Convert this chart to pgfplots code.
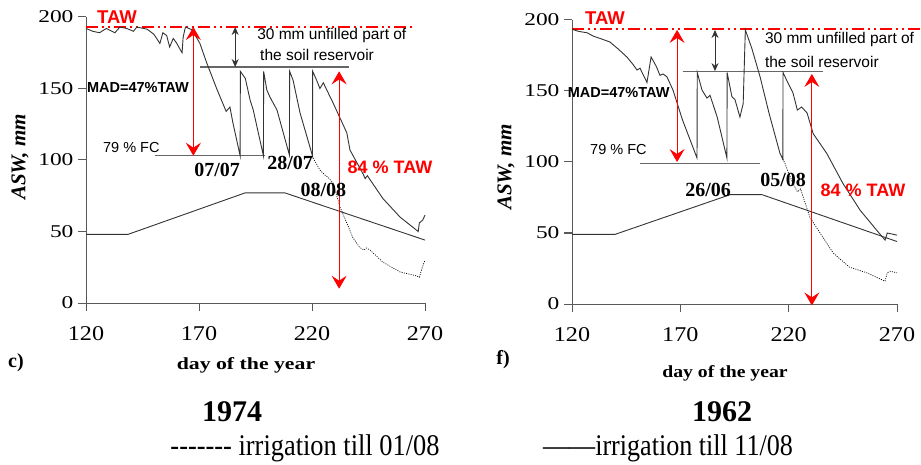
\documentclass[border=0pt]{standalone}
\usepackage{pgfplots}
\pgfplotsset{compat=1.18}
\usepackage{fontspec}
\setmainfont{Liberation Serif}
\newfontfamily\arial{Liberation Sans}
\usetikzlibrary{arrows.meta}
\newcommand\fs[1]{\fontsize{#1}{#1}\selectfont}
\pgfplotsset{
 panel/.style={
  scale only axis, clip=false,
  xmin=120,xmax=270,ymin=0,ymax=200,
  axis x line*=bottom, axis y line*=left,
  axis line style={black!65, line width=1pt},
  xtick={120,170,220,270}, ytick={0,50,100,150,200},
  xticklabels={120,170,220,270}, yticklabels={0,50,100,150,200},
  tick align=outside, major tick length=8pt,
  tick style={black!65,line width=1pt},
  xticklabel style={font=\fs{21}, xscale=1.15, yshift=-12pt},
  yticklabel style={font=\fs{18}, xscale=1.3},
 },
 curve/.style={black!80, line width=0.9pt},
 dcurve/.style={black, line width=0.7pt, dash pattern=on 1pt off 1.3pt},
 hline/.style={black!60, line width=1.2pt},
 taw/.style={color=red, line width=1.6pt, dash pattern=on 12pt off 4pt on 2pt off 4pt on 2pt off 4pt},
 redarr/.style={color=red, line width=0.8pt, arrows={Stealth[length=13pt,width=15pt,inset=5pt]-Stealth[length=13pt,width=15pt,inset=5pt]}},
 blkarr/.style={black!80, line width=0.9pt, arrows={Stealth[length=8pt,width=7pt]-Stealth[length=8pt,width=7pt]}},
}
\begin{document}
\begin{tikzpicture}
\useasboundingbox (0,0) rectangle (921pt,464pt);
% ---------------- 1974 -----------------
\begin{axis}[panel, at={(86pt,161pt)}, anchor=south west, width=339pt, height=286pt]
\addplot[taw] coordinates {(120,193) (265.6,193)};
\addplot[hline] coordinates {(150.5,103) (199,103)};
\addplot[hline] coordinates {(170.5,165) (236.5,165)};
\addplot[curve] coordinates {(120,48)(138.6,48)(190.4,77)(208,77)(270,44)};
\addplot[dcurve] coordinates {(220.2,103)(221,100)(223.5,93)(225.7,89.5)(227,88)(229.3,84)(232.4,67)(235.4,56)(238,46)(241,39)(243,37)(244,38.5)(245.7,37)(251.4,28.5)(259,21.7)(266.4,18.9)(267.5,18)(268.7,24.5)(270,30)};
\addplot[curve] coordinates {(120,192)(123,190)(126,189)(129,192)(132.8,189)(135,193)(138,192)(141,190)(142.5,193)(147,191.5)(150,188)(152.7,181.5)(154,189)(155.7,187)(157,179)(158.6,185)(160,182)(162.5,175)(163,186)(164,193)(167,191)(170.4,181.5)(173.4,168)(177.8,150)(182,134)(183.7,137)(185,126)(188.2,103)(188.3,162)(190.5,157)(192.6,142)(194,135)(198.5,103)(198.6,162)(200,149)(201.4,144)(204.5,135)(210,103.5)(210.1,162)(211.6,156)(214.7,133)(220.2,103)(220.3,162)(222,156)(223.5,150)(225,154)(229.3,140)(235.4,119)(236.8,107)(242.7,90)(243.5,87)(244.5,89)(251.4,73)(259,60)(267,50)(267.5,56)(269,58)(270,61.5)};
\addplot[redarr] coordinates {(167.5,193) (167.5,103)};
\addplot[redarr] coordinates {(232,162) (232,10)};
\addplot[blkarr] coordinates {(186,193) (186,165)};
\node[red, font=\arial\bfseries\fs{18.5}] at (axis cs:133.7,200) {TAW};
\node[anchor=west, font=\arial\bfseries\fs{14.5}, inner sep=0pt] at (axis cs:120.4,151) {MAD=47\%TAW};
\node[anchor=west, font=\arial\fs{14.5}, inner sep=0pt] at (axis cs:127.5,109) {79 \% FC};
\node[anchor=west, font=\arial\fs{15.5}, inner sep=0pt] at (axis cs:195.7,187.4) {30 mm unfilled part of};
\node[anchor=west, font=\arial\fs{15.5}, inner sep=0pt] at (axis cs:197,173.4) {the soil reservoir};
\node[red, font=\arial\bfseries\fs{18}] at (axis cs:254.5,95) {84 \% TAW};
\node[font=\bfseries\fs{20}] at (axis cs:178,93) {07/07};
\node[font=\bfseries\fs{20}] at (axis cs:210.3,98) {28/07};
\node[font=\bfseries\fs{20}] at (axis cs:225,79) {08/08};
\end{axis}
% ---------------- 1962 -----------------
\begin{axis}[panel, at={(572pt,160pt)}, anchor=south west, width=325pt, height=284pt]
\addplot[taw] coordinates {(120,193.5) (281,193.5)};
\addplot[hline] coordinates {(151.4,99) (206.8,99)};
\addplot[hline] coordinates {(171,164) (235.8,164)};
\addplot[curve] coordinates {(120,49)(139.8,49)(193,77)(207.7,77)(270,44)};
\addplot[dcurve] coordinates {(217.3,102)(218.3,99)(220,92)(222,85)(224,79)(225.5,81)(227,74)(229.8,61)(234.5,50)(240.5,36)(248,26)(256,22)(264.5,16)(265.5,22)(267,23)(270,22)};
\addplot[curve] coordinates {(120,193.5)(123,192)(127,191)(130,188.5)(133,187)(137.5,184.5)(141,180)(145.3,174)(148,169)(150,164.8)(151.4,166)(154.6,156)(156.5,174)(159,167)(160.6,161)(162,162)(163.8,160)(166.6,150.7)(171,129.6)(177.7,102.8)(177.8,163)(180,150.7)(182.3,145)(183.7,147)(187,131.7)(191.5,102.8)(191.6,163)(193.8,146)(195.2,144)(197.5,131.7)(199,141)(200,193)(203,180)(206.8,160)(211,134)(216,106)(217.3,102)(217.4,163)(219.7,155.6)(222,148.6)(224,136.6)(226,138.7)(228.5,134.5)(231.3,120)(237.6,106)(245,85)(253,66)(260.6,52)(264.5,45)(265.5,50)(270,48.5)};
\addplot[redarr] coordinates {(168.5,193) (168.5,100)};
\addplot[redarr] coordinates {(230.7,162) (230.7,-1)};
\addplot[blkarr] coordinates {(186,193) (186,164)};
\node[red, font=\arial\bfseries\fs{18.5}] at (axis cs:135.2,201) {TAW};
\node[anchor=west, font=\arial\bfseries\fs{14.5}, inner sep=0pt] at (axis cs:118,148.6) {MAD=47\%TAW};
\node[anchor=west, font=\arial\fs{14.5}, inner sep=0pt] at (axis cs:128.3,108.5) {79 \% FC};
\node[anchor=west, font=\arial\fs{15.5}, inner sep=0pt] at (axis cs:209,186.6) {30 mm unfilled part of};
\node[anchor=west, font=\arial\fs{15.5}, inner sep=0pt] at (axis cs:209,170.4) {the soil reservoir};
\node[red, font=\arial\bfseries\fs{18}] at (axis cs:254.3,80.3) {84 \% TAW};
\node[font=\bfseries\fs{20}] at (axis cs:182.8,80.3) {26/06};
\node[font=\bfseries\fs{20}] at (axis cs:217.4,87.3) {05/08};
\end{axis}
% ---------------- outer texts -----------------
\node[rotate=90, font=\bfseries\itshape\fs{21}] at (20pt,307pt) {ASW, mm};
\node[rotate=90, font=\bfseries\itshape\fs{21}] at (506pt,297pt) {ASW, mm};
\node[font=\bfseries\fs{20}] at (16pt,101pt) {c)};
\node[font=\bfseries\fs{20}] at (503pt,104pt) {f)};
\node[font=\bfseries\fs{17}, xscale=1.28] at (246pt,99pt) {day of the year};
\node[font=\bfseries\fs{17}, xscale=1.16] at (725pt,91pt) {day of the year};
\node[font=\bfseries\fs{30}] at (232pt,52pt) {1974};
\node[font=\bfseries\fs{30}] at (722pt,52pt) {1962};
\node[font=\fs{30}, xscale=0.88] at (305pt,16pt) {-{}-{}-{}-{}-{}-{}- irrigation till 01/08};
\node[font=\fs{30}, xscale=0.87] at (668pt,16pt) {——irrigation till 11/08};
\end{tikzpicture}
\end{document}
